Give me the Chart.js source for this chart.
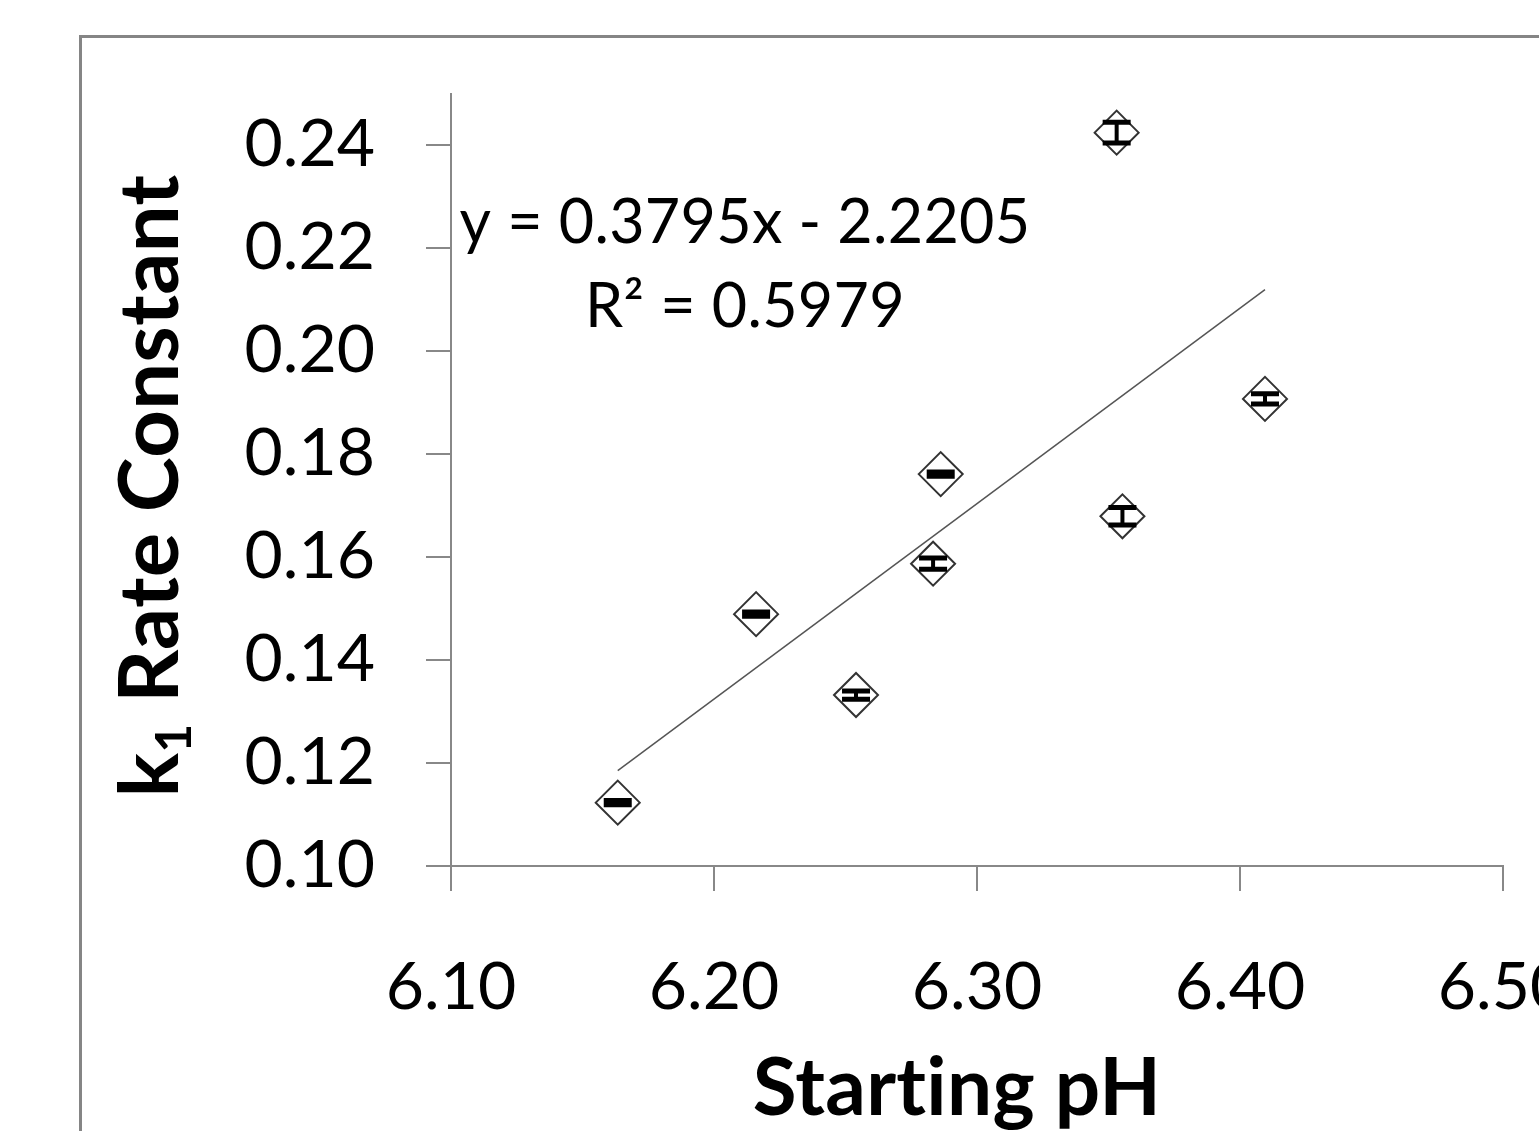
<!DOCTYPE html>
<html>
<head>
<meta charset="utf-8">
<title>k1 Rate Constant vs Starting pH</title>
<script src="https://cdn.jsdelivr.net/npm/chart.js@4.4.0/dist/chart.umd.min.js"></script>
<style>
  html, body { margin: 0; padding: 0; background: #fff; overflow: hidden; }
  #wrap { position: relative; width: 1539px; height: 1131px; overflow: hidden; }
  #frame { position: absolute; left: 79px; top: 35px; width: 2000px; height: 2000px;
           border-left: 3px solid #858585; border-top: 3px solid #858585; }
  #box { position: absolute; left: 0; top: 0; }
</style>
</head>
<body>
<div id="wrap">
  <div id="frame"></div>
  <div id="box"><canvas id="chart" width="1700" height="1131"></canvas></div>
</div>
<script>
// values
const phValues = [6.1634, 6.216, 6.254, 6.2833, 6.2862, 6.3531, 6.3553, 6.4095];
const k1Values = [0.1123, 0.1489, 0.1332, 0.1587, 0.1761, 0.2424, 0.1679, 0.1907];
const k1Errors = [0.0004, 0.0004, 0.0008, 0.0011, 0.0004, 0.0020, 0.0017, 0.0010];

const xTicks = [6.10, 6.20, 6.30, 6.40, 6.50];
const yTicks = [0.10, 0.12, 0.14, 0.16, 0.18, 0.20, 0.22, 0.24];

// linear trendline as printed on the chart
const slope = 0.3795;
const intercept = -2.2205;
const equationLines = ['y = 0.3795x - 2.2205', 'R\u00B2 = 0.5979'];

const xTitle = 'Starting pH';
const yTitle = { main: 'k', sub: '1', rest: ' Rate Constant' };

const axisGray = '#888888';
const fontFamily = 'Lato, "Open Sans", sans-serif';

const points = phValues.map((ph, i) => ({ x: ph, y: k1Values[i] }));
const xMin = Math.min(...phValues);
const xMax = Math.max(...phValues);
const trend = [
  { x: xMin, y: slope * xMin + intercept },
  { x: xMax, y: slope * xMax + intercept }
];

// vertical error bars with caps
const errorBarPlugin = {
  id: 'errorBars',
  afterDatasetsDraw(chart) {
    const { ctx, scales: { x, y } } = chart;
    ctx.save();
    ctx.strokeStyle = '#000';
    phValues.forEach((ph, i) => {
      const px = x.getPixelForValue(ph);
      const top = y.getPixelForValue(k1Values[i] + k1Errors[i]);
      const bottom = y.getPixelForValue(k1Values[i] - k1Errors[i]);
      ctx.lineWidth = 4;
      ctx.beginPath();
      ctx.moveTo(px, top);
      ctx.lineTo(px, bottom);
      ctx.stroke();
      ctx.lineWidth = 5;
      ctx.beginPath();
      ctx.moveTo(px - 14, top);
      ctx.lineTo(px + 14, top);
      ctx.moveTo(px - 14, bottom);
      ctx.lineTo(px + 14, bottom);
      ctx.stroke();
    });
    ctx.restore();
  }
};

// axis titles (y one has a subscript) and the trendline equation
const textPlugin = {
  id: 'chartTexts',
  afterDraw(chart) {
    const { ctx, chartArea } = chart;
    ctx.save();
    ctx.fillStyle = '#000';
    // a tiny letter spacing keeps Lato from joining "ti" into a ligature
    if ('letterSpacing' in ctx) ctx.letterSpacing = '0.3px';

    // equation, centred lines
    ctx.font = '61px ' + fontFamily;
    ctx.textAlign = 'center';
    ctx.textBaseline = 'alphabetic';
    const eqX = chartArea.left + 294;
    ctx.fillText(equationLines[0], eqX, 243);
    ctx.fillText(equationLines[1], eqX, 327);

    // x title
    ctx.font = 'bold 80px ' + fontFamily;
    ctx.fillText(xTitle, chartArea.left + 506, 1115);

    // y title, rotated
    const mainFont = 'bold 83px ' + fontFamily;
    const subFont = 'bold 50px ' + fontFamily;
    ctx.font = mainFont;
    const wMain = ctx.measureText(yTitle.main).width;
    const wRest = ctx.measureText(yTitle.rest).width;
    ctx.font = subFont;
    const wSub = ctx.measureText(yTitle.sub).width;
    const total = wMain + wSub + wRest;
    ctx.translate(178, 486);
    ctx.rotate(-Math.PI / 2);
    ctx.textAlign = 'left';
    let pos = -total / 2;
    ctx.font = mainFont;
    ctx.fillText(yTitle.main, pos, 0);
    pos += wMain;
    ctx.font = subFont;
    ctx.fillText(yTitle.sub, pos, 13);
    pos += wSub;
    ctx.font = mainFont;
    ctx.fillText(yTitle.rest, pos, 0);
    ctx.restore();
  }
};

const ctx = document.getElementById('chart').getContext('2d');
new Chart(ctx, {
  type: 'scatter',
  data: {
    datasets: [
      {
        label: 'k1',
        data: points,
        pointStyle: 'rectRot',
        pointRadius: 22,
        pointHoverRadius: 22,
        pointBorderWidth: 2,
        pointBorderColor: '#333333',
        pointBackgroundColor: '#ffffff',
        order: 2
      },
      {
        type: 'line',
        label: 'trend',
        data: trend,
        borderColor: '#555555',
        borderWidth: 1.5,
        pointRadius: 0,
        fill: false,
        order: 1
      }
    ]
  },
  options: {
    responsive: false,
    animation: false,
    layout: { padding: { left: 0, top: 93.5, right: 197, bottom: 0 } },
    plugins: {
      legend: { display: false },
      tooltip: { enabled: false }
    },
    scales: {
      x: {
        type: 'linear',
        min: 6.10,
        max: 6.50,
        afterBuildTicks: (scale) => { scale.ticks = xTicks.map(v => ({ value: v })); },
        afterFit: (scale) => { scale.height = 265; },
        ticks: {
          color: '#000',
          padding: 57,
          font: { family: fontFamily, size: 66 },
          callback: (v) => Number(v).toFixed(2)
        },
        grid: { display: true, drawOnChartArea: false, drawTicks: true, tickLength: 25, color: axisGray, lineWidth: 2 },
        border: { color: axisGray, width: 2 }
      },
      y: {
        type: 'linear',
        min: 0.10,
        max: 0.25,
        afterBuildTicks: (scale) => { scale.ticks = yTicks.map(v => ({ value: v })); },
        afterFit: (scale) => { scale.width = 451; },
        ticks: {
          color: '#000',
          padding: 51,
          font: { family: fontFamily, size: 66 },
          callback: (v) => Number(v).toFixed(2)
        },
        grid: { display: true, drawOnChartArea: false, drawTicks: true, tickLength: 25, color: axisGray, lineWidth: 2 },
        border: { color: axisGray, width: 2 }
      }
    }
  },
  plugins: [errorBarPlugin, textPlugin]
});
</script>
</body>
</html>
